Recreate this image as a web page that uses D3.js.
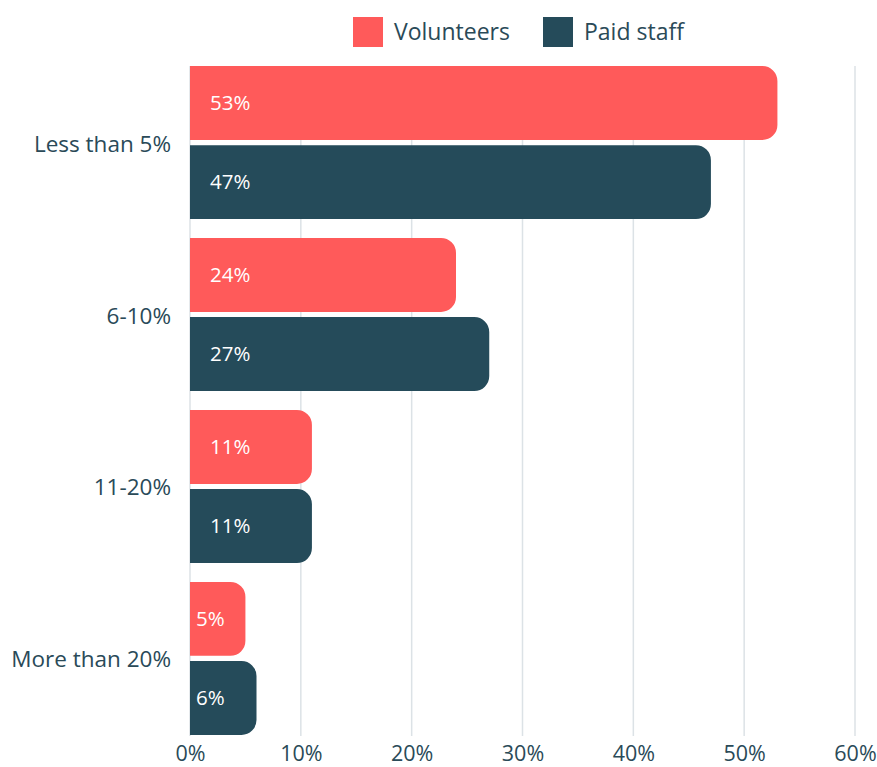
<!DOCTYPE html>
<html><head><meta charset="utf-8">
<script src="https://cdn.jsdelivr.net/npm/d3@7"></script>
<style>body{margin:0;background:#fff;}svg{display:block;font-family:"Open Sans",sans-serif;}</style>
</head><body>
<script>
const categories = ["Less than 5%", "6-10%", "11-20%", "More than 20%"];
const seriesNames = ["Volunteers", "Paid staff"];
const volunteers = [53, 24, 11, 5];
const paidStaff = [47, 27, 11, 6];
const xTicks = [0, 10, 20, 30, 40, 50, 60];
const colors = ["#FF5A5A", "#254B5A"];
const textColor = "#2A4A58";

const W = 877, H = 767;
const svg = d3.select("body").append("svg").attr("width", W).attr("height", H);

const x = d3.scaleLinear().domain([0, 60]).range([190, 855]);
const y = d3.scaleBand().domain(categories).range([66, 735]).paddingInner(0.11).paddingOuter(0);
const ySub = d3.scaleBand().domain(seriesNames).range([0, y.bandwidth()]).paddingInner(0.066);

// gridlines
svg.append("g").selectAll("line").data(xTicks).join("line")
  .attr("x1", d => x(d)).attr("x2", d => x(d))
  .attr("y1", 66).attr("y2", 736)
  .attr("stroke", "#DCE2E6").attr("stroke-width", 1.5);

// x axis labels
const xAxis = d3.axisBottom(x).tickValues(xTicks).tickFormat(d => d + "%").tickSize(0).tickPadding(0);
const gx = svg.append("g").attr("transform", "translate(0,746)").call(xAxis);
gx.select(".domain").remove();
gx.selectAll("text").attr("fill", textColor).style("font-size", "21.5px").style("font-family", "Open Sans").attr("dy", "0.71em");

// y axis labels
const yAxis = d3.axisLeft(y).tickSize(0).tickPadding(19);
const gy = svg.append("g").attr("transform", "translate(190,0)").call(yAxis);
gy.select(".domain").remove();
gy.selectAll("text").attr("fill", textColor).style("font-size", "22.5px").style("font-family", "Open Sans").attr("dy", "0.4em");

const data = [];
categories.forEach((c, i) => {
  data.push({cat: c, s: seriesNames[0], v: volunteers[i], col: colors[0]});
  data.push({cat: c, s: seriesNames[1], v: paidStaff[i], col: colors[1]});
});

function barPath(x0, y0, w, h, r) {
  r = Math.min(r, w, h / 2);
  return `M${x0},${y0}H${x0 + w - r}A${r},${r} 0 0 1 ${x0 + w},${y0 + r}V${y0 + h - r}A${r},${r} 0 0 1 ${x0 + w - r},${y0 + h}H${x0}Z`;
}

const bars = svg.append("g").selectAll("g").data(data).join("g");
bars.append("path")
  .attr("d", d => barPath(x(0), y(d.cat) + ySub(d.s), x(d.v) - x(0), ySub.bandwidth(), 15))
  .attr("fill", d => d.col);
bars.append("text")
  .attr("x", d => x(0) + ((x(d.v) - x(0)) < 80 ? 6 : 20))
  .attr("y", d => y(d.cat) + ySub(d.s) + ySub.bandwidth() / 2)
  .attr("dy", "0.36em")
  .attr("fill", "#fff").style("font-size", "20.5px")
  .text(d => d.v + "%");

// legend
const legend = svg.append("g");
const legX = [353, 543];
seriesNames.forEach((s, i) => {
  legend.append("rect").attr("x", legX[i]).attr("y", 17).attr("width", 30).attr("height", 30).attr("fill", colors[i]);
  legend.append("text").attr("x", legX[i] + 41).attr("y", 32).attr("dy", "0.36em")
    .attr("fill", textColor).style("font-size", "23px").text(s);
});
</script>
</body></html>
